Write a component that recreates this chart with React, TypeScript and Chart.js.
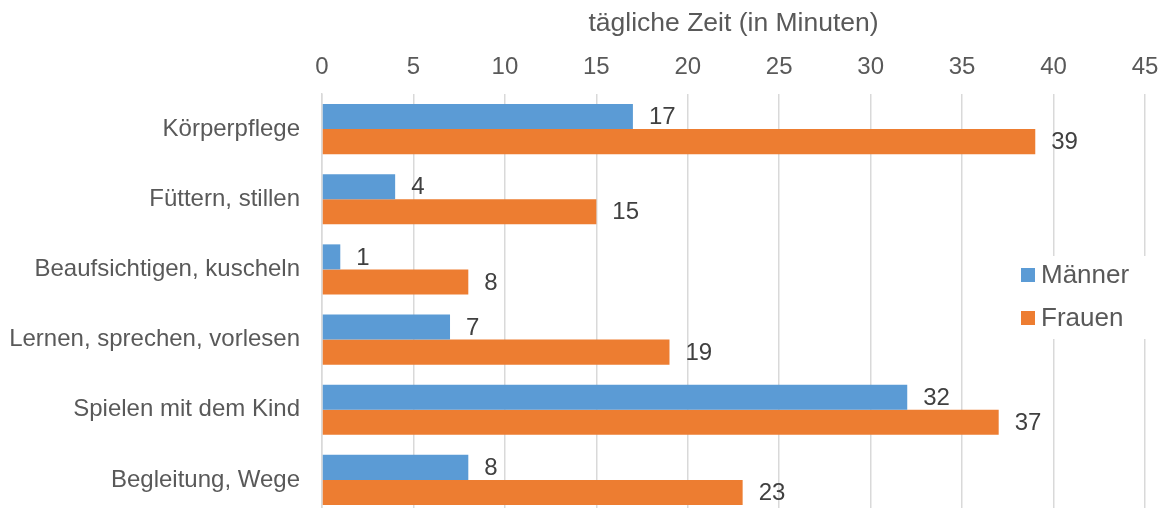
import React, { useEffect, useRef } from "react";
import { Chart, registerables } from "chart.js";

Chart.register(...registerables);

const categories = [
  "Körperpflege",
  "Füttern, stillen",
  "Beaufsichtigen, kuscheln",
  "Lernen, sprechen, vorlesen",
  "Spielen mit dem Kind",
  "Begleitung, Wege",
];
const maenner = [17, 4, 1, 7, 32, 8];
const frauen = [39, 15, 8, 19, 37, 23];
const seriesNames = ["Männer", "Frauen"];
const seriesColors = ["#5B9BD5", "#ED7D31"];
const axisTitle = "tägliche Zeit (in Minuten)";
const xMin = 0;
const xMax = 45;
const xStep = 5;

const FONT = "'Liberation Sans', Arial, sans-serif";
const TEXT = "#595959";
const LABEL = "#404040";

const valueLabels = {
  id: "valueLabels",
  afterDatasetsDraw(chart: any) {
    const ctx = chart.ctx;
    ctx.save();
    ctx.font = `24px ${FONT}`;
    ctx.fillStyle = LABEL;
    ctx.textAlign = "left";
    ctx.textBaseline = "middle";
    chart.data.datasets.forEach((ds: any, i: number) => {
      const meta = chart.getDatasetMeta(i);
      meta.data.forEach((el: any, j: number) => {
        ctx.fillText(String(ds.data[j]), el.x + 16, el.y + 1);
      });
    });
    ctx.restore();
  },
};

const customLegend = {
  id: "customLegend",
  afterDraw(chart: any) {
    const ctx = chart.ctx;
    ctx.save();
    ctx.fillStyle = "#ffffff";
    ctx.fillRect(1012, 256, 140, 83);
    ctx.font = `26px ${FONT}`;
    ctx.textAlign = "left";
    ctx.textBaseline = "middle";
    chart.data.datasets.forEach((ds: any, i: number) => {
      const cy = 275 + i * 43;
      ctx.fillStyle = ds.backgroundColor;
      ctx.fillRect(1021, cy - 7, 14, 14);
      ctx.fillStyle = TEXT;
      ctx.fillText(ds.label, 1041, cy + 1);
    });
    ctx.restore();
  },
};

const zeroPad = (s: any) => {
  s.paddingTop = 0;
  s.paddingBottom = 0;
  s.paddingLeft = 0;
  s.paddingRight = 0;
};

export default function App() {
  const ref = useRef<HTMLCanvasElement>(null);
  useEffect(() => {
    document.body.style.margin = "0";
    document.body.style.overflow = "hidden";
    const chart = new Chart(ref.current!, {
      type: "bar",
      data: {
        labels: categories,
        datasets: [
          { label: seriesNames[0], data: maenner, backgroundColor: seriesColors[0] },
          { label: seriesNames[1], data: frauen, backgroundColor: seriesColors[1] },
        ],
      },
      options: {
        indexAxis: "y",
        animation: false,
        responsive: false,
        datasets: { bar: { barPercentage: 1, categoryPercentage: 0.714 } },
        layout: { padding: { left: 0, right: 17, top: 0, bottom: 0 } },
        plugins: { legend: { display: false }, tooltip: { enabled: false } },
        scales: {
          x: {
            position: "top",
            min: xMin,
            max: xMax,
            ticks: { stepSize: xStep, color: TEXT, font: { size: 24, family: FONT }, padding: 12 },
            grid: { color: "#d9d9d9", lineWidth: 1.5, drawTicks: false },
            border: { display: false },
            title: {
              display: true,
              text: axisTitle,
              color: TEXT,
              font: { size: 26.5, family: FONT },
              padding: { top: 8, bottom: 0 },
            },
            afterFit: (s: any) => {
              s.height = 94;
              zeroPad(s);
            },
          },
          y: {
            ticks: { color: TEXT, font: { size: 24, family: FONT }, padding: 22 },
            grid: { display: false, drawTicks: false },
            border: { display: true, color: "#d9d9d9", width: 1.5 },
            afterFit: (s: any) => {
              s.width = 322;
              zeroPad(s);
            },
          },
        },
      } as any,
      plugins: [valueLabels, customLegend],
    });
    return () => chart.destroy();
  }, []);
  return (
    <div style={{ position: "fixed", left: 0, top: 0, width: 1162, height: 515, background: "#fff" }}>
      <canvas ref={ref} width={1162} height={515} style={{ display: "block" }} />
    </div>
  );
}
